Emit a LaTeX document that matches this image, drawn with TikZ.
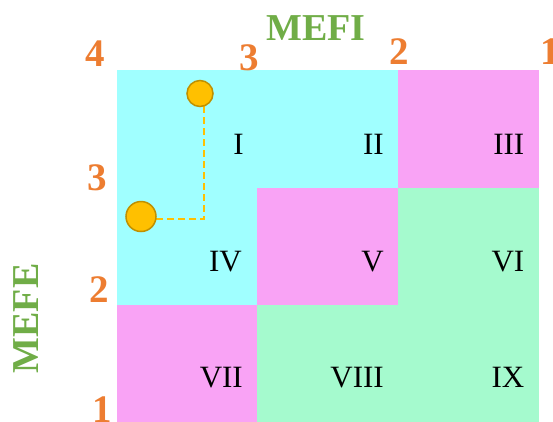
\documentclass[tikz,border=0pt]{standalone}
\usepackage{fontspec}
\setmainfont{Liberation Serif}
\definecolor{cellcyan}{RGB}{160,255,255}
\definecolor{cellpink}{RGB}{249,163,245}
\definecolor{cellgreen}{RGB}{165,250,206}
\definecolor{numorange}{RGB}{237,125,49}
\definecolor{axisgreen}{RGB}{112,173,71}
\definecolor{dotfill}{RGB}{255,192,0}
\definecolor{dotdraw}{RGB}{191,144,0}
\tikzset{
  x=1pt, y=-1pt,
  cellbox/.style={draw=none, inner sep=0pt, outer sep=0pt, minimum width=141pt, minimum height=117.5pt, anchor=north west},
  roman/.style={font=\fontsize{31}{31}\selectfont, inner sep=0pt, anchor=base east, text=black},
  axisnum/.style={font=\fontsize{39}{39}\selectfont\bfseries, text=numorange, inner sep=0pt},
  axisname/.style={font=\fontsize{38}{38}\selectfont\bfseries, text=axisgreen, inner sep=0pt},
  dot/.style={circle, fill=dotfill, draw=dotdraw, line width=1.5pt, inner sep=0pt},
  guide/.style={draw=dotfill, line width=2pt, dash pattern=on 7pt off 4pt}
}
\begin{document}
\begin{tikzpicture}
\useasboundingbox (0,0) rectangle (553,421);
% cells
\node[cellbox, fill=cellcyan]  (c11) at (117,70) {};
\node[cellbox, fill=cellcyan]  (c12) at (257,70) {};
\node[cellbox, fill=cellpink]  (c13) at (398,70) {};
\node[cellbox, fill=cellcyan]  (c21) at (117,187.5) {};
\node[cellbox, fill=cellpink]  (c22) at (257,187.5) {};
\node[cellbox, fill=cellgreen] (c23) at (398,187.5) {};
\node[cellbox, fill=cellpink]  (c31) at (117,305) {};
\node[cellbox, fill=cellgreen] (c32) at (257,305) {};
\node[cellbox, fill=cellgreen] (c33) at (398,305) {};
% roman numerals
\node[roman] (rI)    at (244,154.5) {I};
\node[roman] (rII)   at (384,154.5) {II};
\node[roman] (rIII)  at (524.5,154.5) {III};
\node[roman] (rIV)   at (242,271.5) {IV};
\node[roman] (rV)    at (384,271.5) {V};
\node[roman] (rVI)   at (524.5,271.5) {VI};
\node[roman] (rVII)  at (243,387.5) {VII};
\node[roman] (rVIII) at (384,387.5) {VIII};
\node[roman] (rIX)   at (524.5,387.5) {IX};
% axis numbers
\node[axisnum] (t4) at (95.5,53.5) {4};
\node[axisnum] (t3) at (249.5,58) {3};
\node[axisnum] (t2) at (399,51.5) {2};
\node[axisnum] (t1) at (550,52) {1};
\node[axisnum] (l3) at (97,177.5) {3};
\node[axisnum] (l2) at (99.5,290) {2};
\node[axisnum] (l1) at (102,410) {1};
% axis names
\node[axisname] (mefi) at (316,28.5) {MEFI};
\node[axisname, rotate=90] (mefe) at (26,318.5) {MEFE};
% guide path and dots
\coordinate (p1) at (204,106);
\coordinate (bend) at (204,219);
\coordinate (p2) at (126,219);
\draw[guide] (p1) -- (bend) -- (p2);
\node[dot, minimum size=26pt] (d1) at (200,93.5) {};
\node[dot, minimum size=30pt] (d2) at (141,216.5) {};
\end{tikzpicture}
\end{document}
